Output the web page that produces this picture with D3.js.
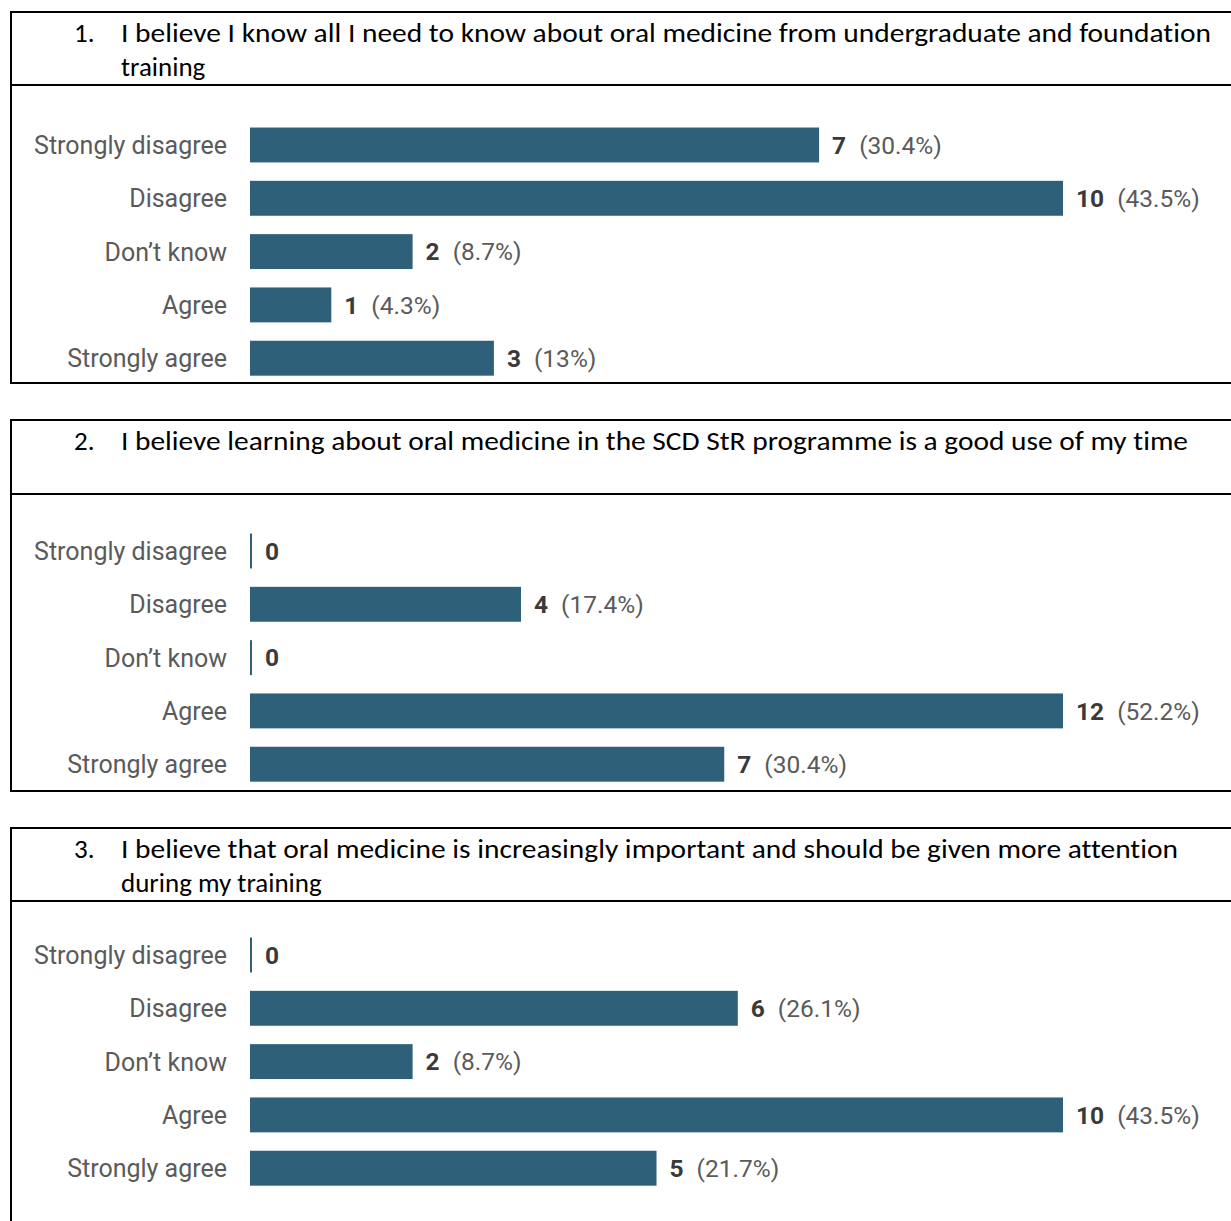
<!DOCTYPE html>
<html lang="en">
<head>
  <meta charset="UTF-8">
  <title>Survey bar charts</title>
  <script src="https://cdn.jsdelivr.net/npm/d3@7"></script>
  <style>
    body { margin: 0; background: #fff; }
    svg { display: block; }
    .title { font-variant-ligatures: none; }
  </style>
</head>
<body>
  <div id="chart"></div>

  <script>
    const categories = ["Strongly disagree", "Disagree", "Don't know", "Agree", "Strongly agree"];

    const q1Counts = [7, 10, 2, 1, 3];
    const q1Pct = ["30.4%", "43.5%", "8.7%", "4.3%", "13%"];
    const q2Counts = [0, 4, 0, 12, 7];
    const q2Pct = ["", "17.4%", "", "52.2%", "30.4%"];
    const q3Counts = [0, 6, 2, 10, 5];
    const q3Pct = ["", "26.1%", "8.7%", "43.5%", "21.7%"];

    const numbers = ["1.", "2.", "3."];
    const titles = [
      ["I believe I know all I need to know about oral medicine from undergraduate and foundation", "training"],
      ["I believe learning about oral medicine in the SCD StR programme is a good use of my time"],
      ["I believe that oral medicine is increasingly important and should be given more attention", "during my training"]
    ];

    const width = 1231, height = 1221;
    const barColor = "#2e6179";

    // layout of each boxed panel
    const panels = [
      {top: 12, divider: 85, bottom: 383, firstRow: 145, counts: q1Counts, pct: q1Pct, lineW: 1090},
      {top: 420, divider: 494, bottom: 791, firstRow: 551, counts: q2Counts, pct: q2Pct, lineW: 1067},
      {top: 828, divider: 901, bottom: null, firstRow: 955, counts: q3Counts, pct: q3Pct, lineW: 1057}
    ];

    const svg = d3.select('#chart')
      .append('svg')
        .attr('width', width)
        .attr('height', height);

    const tFont = "Carlito, 'Open Sans', Lato, sans-serif";

    panels.forEach((p, i) => {
      const g = svg.append('g');

      // box
      const boxBottom = p.bottom === null ? height + 5 : p.bottom;
      g.append('rect')
        .attr('x', 11).attr('y', p.top)
        .attr('width', 1232 - 11).attr('height', boxBottom - p.top)
        .attr('fill', 'none')
        .attr('stroke', '#000')
        .attr('stroke-width', 2);
      g.append('line')
        .attr('x1', 11).attr('x2', 1232)
        .attr('y1', p.divider).attr('y2', p.divider)
        .attr('stroke', '#000')
        .attr('stroke-width', 2);

      // question title - size the font so the first line fills its width
      const probe = g.append('text')
        .attr('class', 'title')
        .attr('font-family', tFont).attr('font-size', 24)
        .text(titles[i][0]);
      const natural = probe.node().getComputedTextLength();
      probe.remove();
      const fs = Math.min(27, 24 * p.lineW / natural);

      g.append('text')
        .attr('class', 'title')
        .attr('x', 74).attr('y', p.top + 30)
        .attr('font-family', tFont).attr('font-size', fs)
        .attr('fill', '#000')
        .text(numbers[i]);
      titles[i].forEach((line, k) => {
        const t = g.append('text')
          .attr('class', 'title')
          .attr('x', 121).attr('y', p.top + 30 + k * 34)
          .attr('font-family', tFont).attr('font-size', fs)
          .attr('fill', '#000')
          .text(line);
        if (k === 0) t.attr('textLength', p.lineW).attr('lengthAdjust', 'spacingAndGlyphs');
      });

      const x = d3.scaleLinear()
        .domain([0, d3.max(p.counts)])
        .range([250, 1063]);

      const y = d3.scaleBand()
        .domain(categories)
        .range([p.firstRow - 53.3 / 2, p.firstRow - 53.3 / 2 + 53.3 * categories.length])
        .paddingInner(0.345)
        .paddingOuter(0.172);

      const rows = categories.map((c, j) => ({cat: c, n: p.counts[j], pct: p.pct[j]}));

      g.selectAll('rect.bar')
        .data(rows)
        .join('rect')
          .attr('class', 'bar')
          .attr('x', x(0))
          .attr('y', d => y(d.cat))
          .attr('width', d => Math.max(2, x(d.n) - x(0)))
          .attr('height', y.bandwidth())
          .attr('fill', barColor);

      g.selectAll('text.cat')
        .data(rows)
        .join('text')
          .attr('class', 'cat')
          .attr('x', 227)
          .attr('y', d => y(d.cat) + y.bandwidth() / 2)
          .attr('dy', '0.36em')
          .attr('text-anchor', 'end')
          .attr('font-family', 'Roboto, sans-serif')
          .attr('font-size', 25)
          .attr('fill', '#5a5a5a')
          .text(d => d.cat.replace("'", "’"));

      const val = g.selectAll('text.val')
        .data(rows)
        .join('text')
          .attr('class', 'val')
          .attr('x', d => Math.max(x(d.n), x(0) + 2) + 13)
          .attr('y', d => y(d.cat) + y.bandwidth() / 2)
          .attr('dy', '0.36em')
          .attr('font-family', 'Roboto, sans-serif')
          .attr('font-size', 24.5);
      val.append('tspan')
        .attr('font-weight', 'bold')
        .attr('fill', '#3a3a3a')
        .text(d => d.n);
      val.filter(d => d.pct !== "")
        .append('tspan')
        .attr('dx', 13)
        .attr('fill', '#5a5a5a')
        .text(d => `(${d.pct})`);
    });
  </script>
</body>
</html>
